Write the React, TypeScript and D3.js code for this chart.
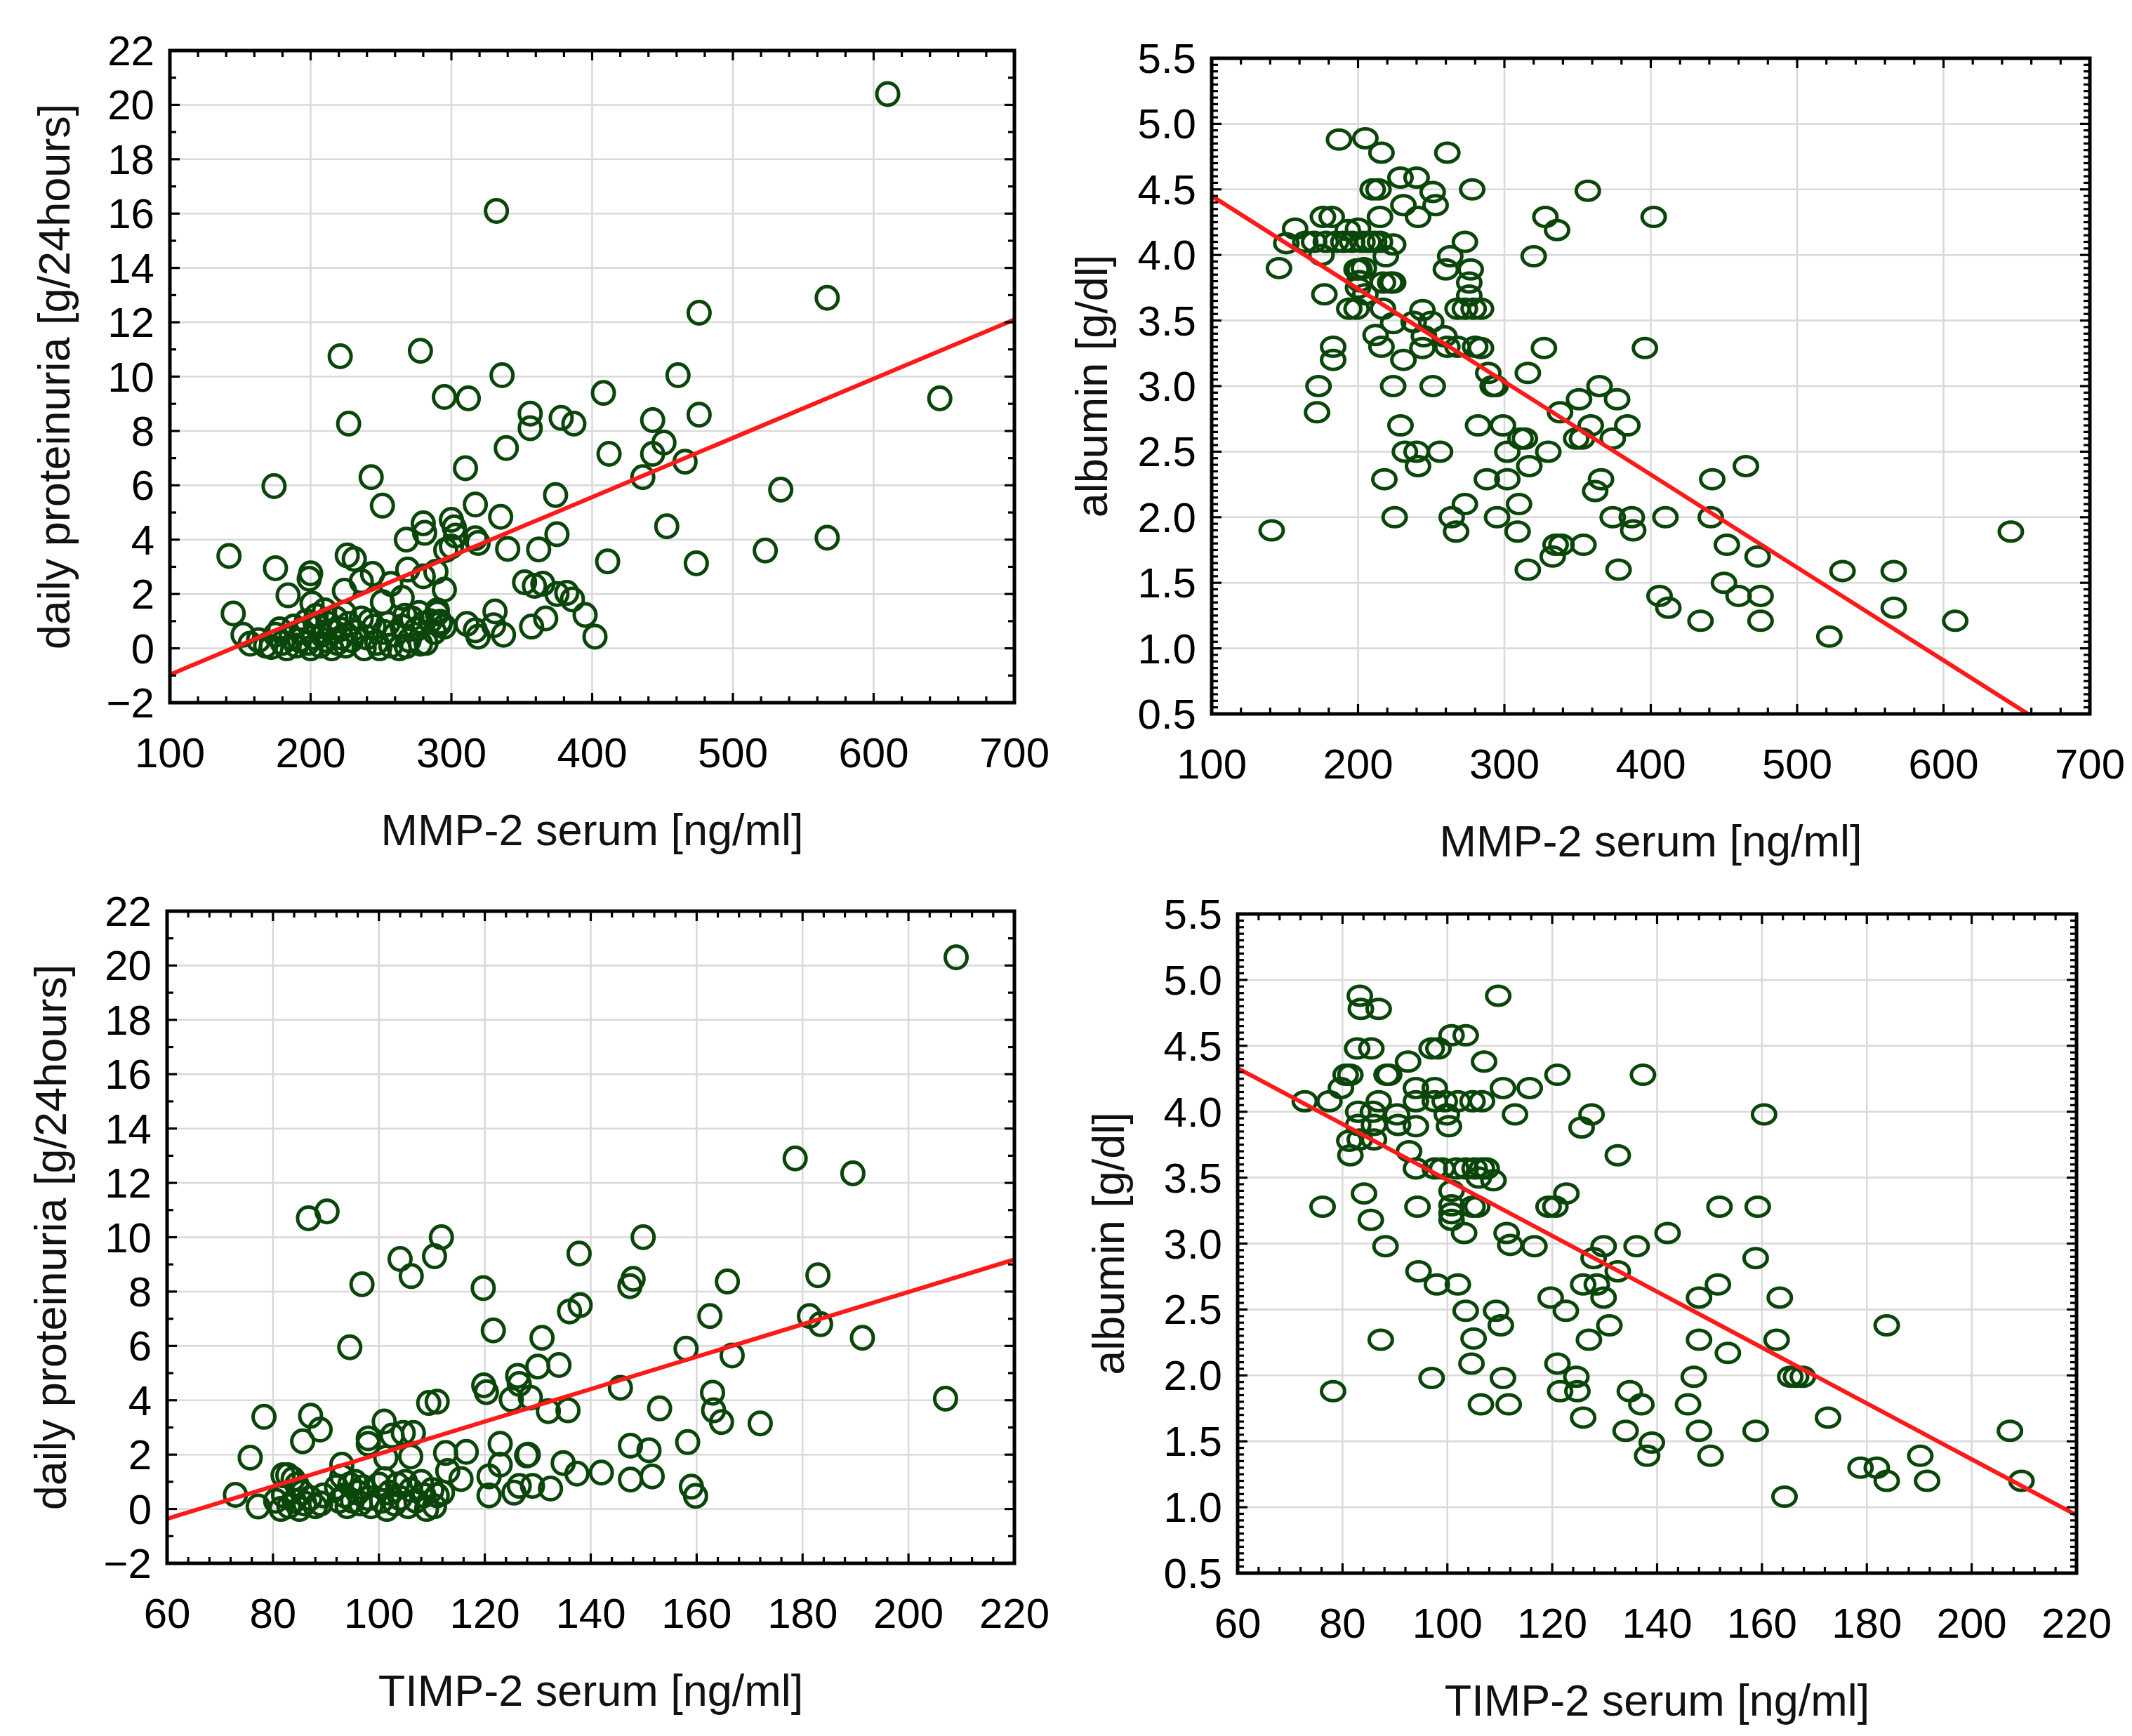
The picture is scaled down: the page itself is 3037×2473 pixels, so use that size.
import React, { useEffect, useRef } from "react";
import * as d3 from "d3";

type Pt = [number, number];

// MMP-2 serum [ng/ml] vs daily proteinuria [g/24hours]
const mmpProteinuria: Pt[] = [
  [610, 20.4], [332, 16.1], [567, 12.9], [476, 12.35], [278, 10.95], [221, 10.75], [336, 10.05], [461, 10.05],
  [295, 9.25], [312, 9.2], [647, 9.2], [408, 9.4], [227, 8.27], [356, 8.64], [356, 8.1], [378, 8.48], [387, 8.27],
  [443, 8.4], [476, 8.6], [339, 7.37], [412, 7.16], [443, 7.16], [451, 7.57], [466, 6.87], [310, 6.63], [436, 6.3],
  [243, 6.3], [174, 5.97], [534, 5.84], [374, 5.64], [251, 5.25], [317, 5.29], [335, 4.84], [300, 4.73], [280, 4.6],
  [281, 4.25], [302, 4.45], [303, 4.15], [375, 4.2], [453, 4.49], [268, 4.0], [317, 4.05], [319, 3.88], [296, 3.62],
  [300, 3.75], [340, 3.66], [362, 3.64], [567, 4.07], [523, 3.6], [411, 3.2], [474, 3.13], [142, 3.4], [175, 2.95],
  [200, 2.76], [199, 2.56], [226, 3.42], [231, 3.29], [269, 2.9], [289, 2.82], [244, 2.74], [280, 2.65], [236, 2.47],
  [257, 2.37], [295, 2.16], [224, 2.12], [184, 1.95], [352, 2.43], [359, 2.3], [365, 2.38], [375, 2.0], [382, 2.04],
  [386, 1.8], [395, 1.23], [367, 1.1], [331, 1.36], [265, 1.86], [251, 1.7], [201, 1.65], [145, 1.28], [152, 0.5],
  [157, 0.17], [402, 0.43], [357, 0.8], [337, 0.5], [311, 0.9], [317, 0.66], [319, 0.43], [290, 1.28], [292, 0.98],
  [278, 0.17], [268, 0.08], [330, 0.85],
  [163, 0.3], [168, 0.1], [172, 0.05], [175, 0.5], [178, 0.7], [180, 0.2], [183, 0.0], [186, 0.4], [188, 0.8],
  [190, 0.1], [192, 0.3], [195, 0.6], [197, 1.0], [198, 0.2], [200, 0.0], [202, 0.4], [204, 1.2], [205, 0.8],
  [207, 0.1], [208, 0.5], [210, 1.4], [211, 0.3], [213, 0.9], [215, 0.0], [216, 0.6], [218, 1.1], [219, 0.2],
  [221, 0.7], [222, 0.4], [224, 1.3], [225, 0.1], [227, 0.9], [229, 0.3], [232, 0.6], [236, 1.1], [238, 0.0],
  [240, 0.4], [242, 1.0], [245, 0.8], [247, 0.2], [249, 0.0], [252, 0.6], [255, 0.9], [257, 0.1], [260, 0.5],
  [263, 0.0], [265, 0.8], [267, 1.2], [270, 0.3], [272, 1.1], [275, 0.7], [277, 1.3], [280, 0.9], [282, 0.2],
  [285, 1.0], [288, 0.6], [290, 1.4], [292, 0.9], [295, 0.8],
];

// MMP-2 serum [ng/ml] vs albumin [g/dl]
const mmpAlbumin: Pt[] = [
  [141, 1.9], [146, 3.9], [151, 4.09], [157, 4.2], [164, 4.1], [170, 4.1], [175, 4.0], [176, 4.29], [182, 4.29],
  [178, 4.1], [177, 3.7], [173, 3.0], [172, 2.8], [183, 3.3], [183, 3.2],
  [187, 4.88], [205, 4.89], [216, 4.78], [261, 4.78],
  [210, 4.5], [214, 4.5], [229, 4.59], [240, 4.59], [231, 4.38], [241, 4.29], [251, 4.48], [253, 4.38], [278, 4.5],
  [215, 4.29], [185, 4.1], [190, 4.1], [193, 4.19], [196, 4.1], [200, 4.2], [203, 4.1], [207, 4.1], [211, 4.1],
  [215, 4.1], [224, 4.08], [199, 3.89], [201, 3.89], [204, 3.9], [201, 3.8], [205, 3.7], [200, 3.75], [194, 3.59],
  [199, 3.59], [217, 3.59], [217, 3.79], [222, 3.79], [224, 3.79], [219, 3.99],
  [212, 3.39], [216, 3.3], [224, 3.48], [244, 3.58], [250, 3.49], [238, 3.49], [245, 3.38], [244, 3.29], [259, 3.38],
  [261, 3.3], [268, 3.3], [231, 3.2], [224, 3.0], [251, 3.0],
  [260, 3.89], [263, 3.99], [273, 4.1], [277, 3.89], [276, 3.79], [276, 3.69], [268, 3.59], [273, 3.59], [279, 3.59],
  [284, 3.59], [280, 3.3], [284, 3.29],
  [328, 4.29], [336, 4.19], [357, 4.49], [402, 4.29], [320, 3.99],
  [289, 3.1], [294, 3.0], [292, 3.0], [316, 3.1], [327, 3.29], [396, 3.29],
  [365, 3.0], [351, 2.9], [377, 2.9], [338, 2.8], [299, 2.7], [282, 2.7], [229, 2.7], [359, 2.7], [384, 2.7],
  [311, 2.6], [314, 2.6], [349, 2.6], [353, 2.6], [374, 2.6],
  [232, 2.5], [240, 2.5], [256, 2.5], [302, 2.5], [330, 2.5], [241, 2.39], [317, 2.39],
  [218, 2.29], [288, 2.29], [302, 2.29], [366, 2.29], [362, 2.2],
  [225, 2.0], [264, 2.0], [267, 1.89], [273, 2.1], [310, 2.1], [295, 2.0], [309, 1.89],
  [374, 2.0], [387, 2.0], [388, 1.9], [410, 2.0],
  [335, 1.79], [339, 1.79], [333, 1.7], [354, 1.79], [316, 1.6], [378, 1.6],
  [406, 1.4], [412, 1.31], [434, 1.21], [442, 2.29], [441, 2.0], [452, 1.79], [450, 1.5], [460, 1.4], [465, 2.39],
  [473, 1.7], [475, 1.4], [475, 1.21],
  [522, 1.09], [531, 1.59], [566, 1.59], [566, 1.31], [608, 1.21], [646, 1.89],
];

// TIMP-2 serum [ng/ml] vs daily proteinuria [g/24hours]
const timpProteinuria: Pt[] = [
  [209, 20.3], [178.6, 12.9], [189.5, 12.35], [86.7, 10.7], [90.2, 10.95], [111.8, 10.0], [149.9, 10.0], [104, 9.2],
  [110.5, 9.3], [137.8, 9.4], [96.8, 8.27], [106.1, 8.57], [119.7, 8.13], [147.4, 8.2], [148, 8.47], [165.8, 8.37],
  [182.9, 8.6], [136, 7.27], [138, 7.5], [162.5, 7.1], [181.3, 7.1], [183.4, 6.8], [121.6, 6.57], [130.8, 6.3],
  [191.3, 6.3], [94.5, 5.95], [158, 5.9], [166.7, 5.65], [130, 5.24], [134, 5.3], [126.2, 4.9], [126.5, 4.6],
  [119.8, 4.55], [120.3, 4.3], [145.6, 4.46], [125, 4.03], [128.6, 4.1], [109.4, 3.9], [111, 3.95], [132, 3.6],
  [135.7, 3.63], [153, 3.7], [163, 4.28], [163.2, 3.63], [164.7, 3.2], [172, 3.15], [207, 4.06],
  [78.3, 3.39], [87.1, 3.43], [88.9, 2.92], [85.6, 2.49], [101, 3.22], [98, 2.6], [98, 2.4], [104.6, 2.8],
  [106.5, 2.8], [102.5, 2.7],
  [75.7, 1.89], [93, 1.63], [101.3, 1.89], [106, 1.93], [112.6, 2.06], [116.5, 2.1], [122.9, 2.4], [122.9, 1.63],
  [127.9, 1.97], [128.2, 2.0], [147.5, 2.33], [151, 2.16], [158.3, 2.46],
  [113, 1.4], [115.5, 1.1], [120.8, 1.2], [120.8, 0.5], [125.5, 0.6], [126.5, 0.85], [129, 0.85], [132.4, 0.75],
  [134.8, 1.69], [137.4, 1.3], [142, 1.34], [147.5, 1.08], [151.6, 1.2], [159, 0.82], [159.8, 0.48],
  [72.9, 0.52], [77.2, 0.09], [81.9, 1.24], [82.8, 1.24], [83.8, 1.1], [84.5, 0.9],
  [80.5, 0.3], [81.5, 0.0], [82, 0.5], [83, 0.1], [84, 0.3], [85, 0.0], [85.5, 0.6], [86, 0.2], [87, 0.4],
  [88, 0.1], [89, 0.2], [89.5, 0.5],
  [92, 0.8], [92.5, 0.3], [93, 1.2], [93.5, 0.5], [94, 0.1], [94.5, 0.9], [95, 0.3], [95.5, 1.0], [96, 0.6],
  [96.5, 0.2], [97, 0.8], [98, 0.4], [98.5, 0.1],
  [100, 0.9], [100.5, 0.3], [101, 1.1], [101.5, 0.0], [102, 0.6], [103, 0.2], [103.5, 0.9], [104, 0.4],
  [105, 1.0], [105.5, 0.1], [106, 0.7], [107, 0.3], [108, 1.0], [108.5, 0.5], [109, 0.0], [110, 0.7],
  [110.5, 0.1], [111, 0.5], [112, 0.6],
];

// TIMP-2 serum [ng/ml] vs albumin [g/dl]
const timpAlbumin: Pt[] = [
  [72.8, 4.08], [77.5, 4.08], [76.2, 3.28], [78.2, 1.88],
  [79.7, 4.18], [80.6, 4.28], [81.5, 4.28], [81.5, 3.67], [81.3, 3.78], [83, 4.0], [83, 3.9],
  [83.3, 4.88], [83.5, 4.78], [86.9, 4.78], [82.8, 4.48], [85.5, 4.48],
  [84.1, 3.38], [85.4, 3.18], [88.2, 2.98], [87.3, 2.27],
  [85.8, 4.0], [86, 3.9], [86.9, 4.08], [83.3, 3.79], [86, 3.79],
  [88.4, 4.28], [88.9, 4.28], [90.4, 3.98], [90.6, 3.9], [92.5, 4.38],
  [92.7, 3.7], [94, 3.57], [94.3, 3.28], [94.5, 2.79], [94, 4.08], [94, 4.18], [94, 3.89],
  [97, 4.48], [98.3, 4.48], [97.6, 4.18], [97.6, 4.08], [99.5, 4.08], [99.9, 3.98], [100.3, 3.89],
  [97.6, 3.57], [99, 3.57], [98, 2.69], [97, 1.98],
  [100.8, 4.58], [103.5, 4.58], [100.8, 3.4], [100.8, 3.29], [100.8, 3.23], [100.8, 3.18],
  [101.7, 3.57], [103.5, 3.57], [105.2, 3.57], [106.6, 3.57], [107.5, 3.57], [106, 3.5], [108.8, 3.48],
  [102, 2.69], [103.2, 3.08], [103.5, 2.49], [104.6, 2.09], [105, 2.28], [104.8, 3.28], [105.7, 3.28],
  [102, 4.08], [104.8, 4.08], [106.6, 4.08], [107, 4.38], [106.4, 1.78],
  [109.7, 4.88], [110.6, 4.18], [109.3, 2.49], [110.2, 2.38], [110.6, 1.98], [111.3, 3.08], [112, 2.99], [111.7, 1.78],
  [112.9, 3.98], [115.7, 4.18], [116.6, 2.98], [119.3, 3.28], [120.6, 3.28], [119.7, 2.59], [121, 4.28], [121, 2.09],
  [121.5, 1.88], [122.6, 2.49], [122.7, 3.38], [124.6, 1.99], [124.8, 1.88], [125.6, 3.88], [125.9, 2.69],
  [125.9, 1.68], [127, 2.27], [127.5, 3.98], [127.9, 2.89], [128.5, 2.69], [129.8, 2.59], [129.8, 2.98],
  [130.9, 2.38], [132.5, 3.67], [132.5, 2.79], [134, 1.58], [134.8, 1.88], [136.1, 2.98], [137, 1.78],
  [137.3, 4.28], [138.1, 1.39], [139, 1.49], [142, 3.08], [145.9, 1.78], [147, 1.99], [148, 2.59], [148, 2.27],
  [148, 1.58], [150.2, 1.39], [151.6, 2.69], [151.9, 3.28], [153.5, 2.17], [158.8, 1.58], [158.8, 2.89],
  [159.2, 3.28], [160.4, 3.98], [162.8, 2.27], [163.4, 2.59], [164.3, 1.08], [165.4, 1.99], [166.5, 1.99],
  [167.8, 1.99], [172.6, 1.68], [178.8, 1.3], [181.9, 1.3], [183.8, 1.2], [183.8, 2.38], [190.2, 1.39],
  [191.5, 1.2], [207.3, 1.58], [209.5, 1.2],
];

// regression lines, end points in data units
const mmpProteinuriaFit: Pt[] = [[100, -0.97], [700, 12.1]];
const mmpAlbuminFit: Pt[] = [[100, 4.45], [700, 0.2]];
const timpProteinuriaFit: Pt[] = [[60, -0.36], [220, 9.18]];
const timpAlbuminFit: Pt[] = [[60, 4.33], [220, 0.94]];

// tick labels
const mmpTicks = [100, 200, 300, 400, 500, 600, 700];
const timpTicks = [60, 80, 100, 120, 140, 160, 180, 200, 220];
const proteinuriaTicks = [-2, 0, 2, 4, 6, 8, 10, 12, 14, 16, 18, 20, 22];
const albuminTicks = [0.5, 1.0, 1.5, 2.0, 2.5, 3.0, 3.5, 4.0, 4.5, 5.0, 5.5];

const FONT = "'Liberation Sans', Arial, sans-serif";
const GREEN = "#0a460a";

const panels = [
  {
    id: "p1", data: mmpProteinuria, fit: mmpProteinuriaFit, xTicks: mmpTicks, yTicks: proteinuriaTicks,
    xMinor: 20, yMinor: 1, yFmt: d3.format("d"),
    xTitle: "MMP-2 serum [ng/ml]", yTitle: "daily proteinuria [g/24hours]",
    box: [242, 72, 1445, 1001], rx: 15.5, ry: 16, yTitleOff: 165,
  },
  {
    id: "p2", data: mmpAlbumin, fit: mmpAlbuminFit, xTicks: mmpTicks, yTicks: albuminTicks,
    xMinor: 20, yMinor: 0.05, yFmt: d3.format(".1f"),
    xTitle: "MMP-2 serum [ng/ml]", yTitle: "albumin [g/dl]",
    box: [1726, 83, 2977, 1017], rx: 16.5, ry: 13.5, yTitleOff: 171,
  },
  {
    id: "p3", data: timpProteinuria, fit: timpProteinuriaFit, xTicks: timpTicks, yTicks: proteinuriaTicks,
    xMinor: 4, yMinor: 1, yFmt: d3.format("d"),
    xTitle: "TIMP-2 serum [ng/ml]", yTitle: "daily proteinuria [g/24hours]",
    box: [238, 1298, 1445, 2227], rx: 15.5, ry: 16, yTitleOff: 166,
  },
  {
    id: "p4", data: timpAlbumin, fit: timpAlbuminFit, xTicks: timpTicks, yTicks: albuminTicks,
    xMinor: 4, yMinor: 0.05, yFmt: d3.format(".1f"),
    xTitle: "TIMP-2 serum [ng/ml]", yTitle: "albumin [g/dl]",
    box: [1763, 1302, 2958, 2241], rx: 16.5, ry: 13.5, yTitleOff: 184,
  },
];

function App() {
  const svgRef = useRef<SVGSVGElement>(null);

  useEffect(() => {
    const svg = d3.select(svgRef.current);
    svg.selectAll("*").remove();

    panels.forEach((p) => {
      const [x0, y0, x1, y1] = p.box;
      const xd = [p.xTicks[0], p.xTicks[p.xTicks.length - 1]];
      const yd = [p.yTicks[0], p.yTicks[p.yTicks.length - 1]];
      const x = d3.scaleLinear().domain(xd).range([x0, x1]);
      const y = d3.scaleLinear().domain(yd).range([y1, y0]);
      const g = svg.append("g");

      // clip to plot area
      g.append("clipPath")
        .attr("id", `clip-${p.id}`)
        .append("rect")
        .attr("x", x0)
        .attr("y", y0)
        .attr("width", x1 - x0)
        .attr("height", y1 - y0);

      // grid
      g.selectAll(".gx")
        .data(p.xTicks.slice(1, -1))
        .join("line")
        .attr("x1", (d) => x(d))
        .attr("x2", (d) => x(d))
        .attr("y1", y0)
        .attr("y2", y1)
        .attr("stroke", "#d9d9d9")
        .attr("stroke-width", 2.5);
      g.selectAll(".gy")
        .data(p.yTicks.slice(1, -1))
        .join("line")
        .attr("x1", x0)
        .attr("x2", x1)
        .attr("y1", (d) => y(d))
        .attr("y2", (d) => y(d))
        .attr("stroke", "#d9d9d9")
        .attr("stroke-width", 2.5);

      // points
      g.append("g")
        .attr("clip-path", `url(#clip-${p.id})`)
        .selectAll("ellipse")
        .data(p.data)
        .join("ellipse")
        .attr("cx", (d) => x(d[0]))
        .attr("cy", (d) => y(d[1]))
        .attr("rx", p.rx)
        .attr("ry", p.ry)
        .attr("fill", "none")
        .attr("stroke", GREEN)
        .attr("stroke-width", 5);

      // regression line
      g.append("path")
        .datum(p.fit)
        .attr("clip-path", `url(#clip-${p.id})`)
        .attr("d", d3.line<Pt>().x((d) => x(d[0])).y((d) => y(d[1])))
        .attr("fill", "none")
        .attr("stroke", "#ff1a1a")
        .attr("stroke-width", 6);

      // minor/major ticks on all four sides, inward
      const eps = 1e-9;
      const xm = d3.range(xd[0], xd[1] + eps, p.xMinor);
      const ym = d3.range(Math.round(yd[0] / p.yMinor), Math.round(yd[1] / p.yMinor) + 1).map((k) => k * p.yMinor);
      const isMajX = (v: number) => p.xTicks.some((t) => Math.abs(t - v) < 1e-6);
      const isMajY = (v: number) => p.yTicks.some((t) => Math.abs(t - v) < 1e-6);
      const tk = g.append("g").attr("stroke", "#000").attr("stroke-width", 3.2);
      xm.forEach((v) => {
        const L = isMajX(v) ? 14 : 9;
        tk.append("line").attr("x1", x(v)).attr("x2", x(v)).attr("y1", y1).attr("y2", y1 - L);
        tk.append("line").attr("x1", x(v)).attr("x2", x(v)).attr("y1", y0).attr("y2", y0 + L);
      });
      ym.forEach((v) => {
        const L = isMajY(v) ? 14 : 9;
        tk.append("line").attr("x1", x0).attr("x2", x0 + L).attr("y1", y(v)).attr("y2", y(v));
        tk.append("line").attr("x1", x1).attr("x2", x1 - L).attr("y1", y(v)).attr("y2", y(v));
      });

      // frame
      g.append("rect")
        .attr("x", x0)
        .attr("y", y0)
        .attr("width", x1 - x0)
        .attr("height", y1 - y0)
        .attr("fill", "none")
        .attr("stroke", "#000")
        .attr("stroke-width", 5);

      // tick labels
      g.selectAll(".xl")
        .data(p.xTicks)
        .join("text")
        .attr("x", (d) => x(d))
        .attr("y", y1 + 92)
        .attr("text-anchor", "middle")
        .attr("font-family", FONT)
        .attr("font-size", 60)
        .attr("fill", "#000")
        .text((d) => String(d));
      g.selectAll(".yl")
        .data(p.yTicks)
        .join("text")
        .attr("x", x0 - 22)
        .attr("y", (d) => y(d) + 21)
        .attr("text-anchor", "end")
        .attr("font-family", FONT)
        .attr("font-size", 60)
        .attr("fill", "#000")
        .text((d) => p.yFmt(d));

      // axis titles
      g.append("text")
        .attr("x", (x0 + x1) / 2)
        .attr("y", y1 + 203)
        .attr("text-anchor", "middle")
        .attr("font-family", FONT)
        .attr("font-size", 63)
        .attr("fill", "#111")
        .text(p.xTitle);
      g.append("text")
        .attr("transform", `translate(${x0 - p.yTitleOff},${(y0 + y1) / 2}) rotate(-90)`)
        .attr("dy", "0.35em")
        .attr("text-anchor", "middle")
        .attr("font-family", FONT)
        .attr("font-size", 63)
        .attr("fill", "#111")
        .text(p.yTitle);
    });
  }, []);

  return (
    <svg
      ref={svgRef}
      width={3037}
      height={2473}
      style={{ position: "absolute", left: 0, top: 0, background: "#fff" }}
    ></svg>
  );
}

export default App;
